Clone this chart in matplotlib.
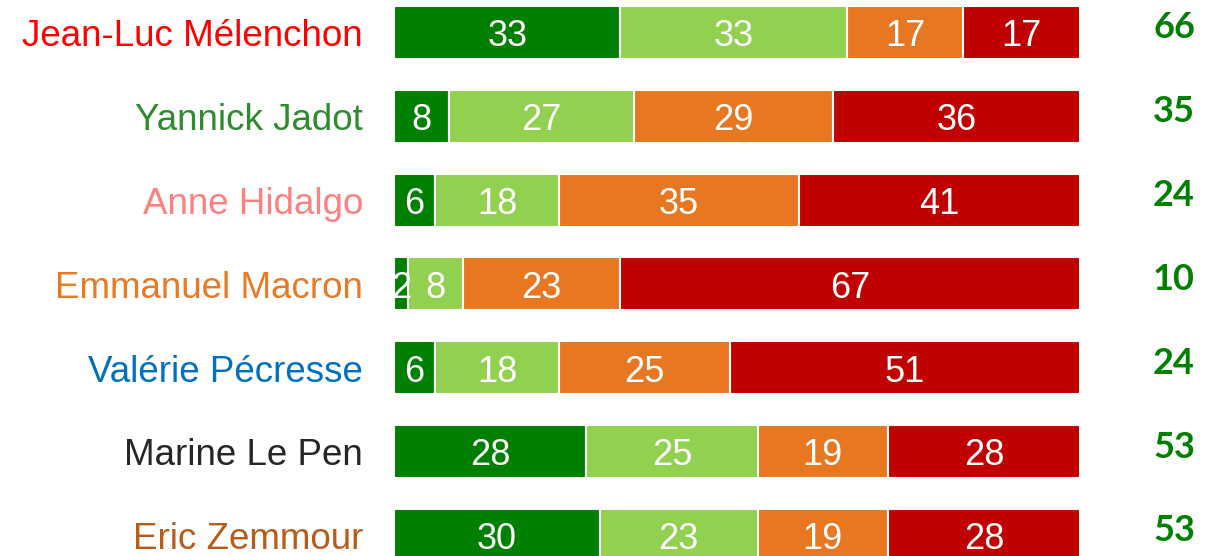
import matplotlib
matplotlib.use("Agg")
import matplotlib.pyplot as plt

candidates = ["Jean-Luc Mélenchon", "Yannick Jadot", "Anne Hidalgo", "Emmanuel Macron",
              "Valérie Pécresse", "Marine Le Pen", "Eric Zemmour"]
name_colors = ["#FF0000", "#2E8B2E", "#FF8080", "#E97A25", "#0070C0", "#262626", "#B85C1C"]

tout_a_fait = [33, 8, 6, 2, 6, 28, 30]
plutot = [33, 27, 18, 8, 18, 25, 23]
plutot_pas = [17, 29, 35, 23, 25, 19, 19]
pas_du_tout = [17, 36, 41, 67, 51, 28, 28]
totals = [66, 35, 24, 10, 24, 53, 53]

series = [tout_a_fait, plutot, plutot_pas, pas_du_tout]
seg_colors = ["#008000", "#92D050", "#E87722", "#C00000"]

W, H = 1225, 556
fig = plt.figure(figsize=(W / 100, H / 100), dpi=100)
ax = fig.add_axes([0, 0, 1, 1])
ax.set_axis_off()

# pixel mapping: 0 -> x=394px, 100 -> x=1080px; rows 83.8px apart, first centred at 32.5px
ppu = (1080 - 394) / 100
ax.set_xlim(-394 / ppu, (W - 394) / ppu)
pitch = 83.8
ax.set_ylim((H - 32.5) / pitch, -32.5 / pitch)

rows = list(range(len(candidates)))
left = [0] * len(candidates)
for vals, col in zip(series, seg_colors):
    ax.barh(rows, vals, left=left, height=53 / pitch, color=col,
            edgecolor="white", linewidth=1.5)
    for r, v, l in zip(rows, vals, left):
        ax.text(l + v / 2, r + 13.8 / pitch, str(v), ha="center", va="baseline",
                color="white", fontsize=26, family="Liberation Sans")
    left = [l + v for l, v in zip(left, vals)]

for r, name, c in zip(rows, candidates, name_colors):
    ax.text(-31 / ppu, r + 13.8 / pitch, name, ha="right", va="baseline", color=c,
            fontsize=26.5, family="Liberation Sans")

for r, t in zip(rows, totals):
    ax.text((1174 - 394) / ppu, r + 6 / pitch, str(t), ha="center", va="baseline",
            color="#008000", fontsize=26, fontweight="bold", family="Lato")

fig.savefig("out.png", dpi=100)
